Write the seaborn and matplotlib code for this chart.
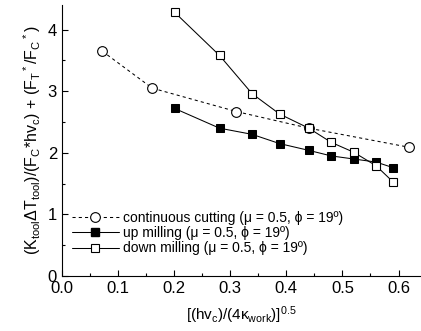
import pandas as pd
import matplotlib.pyplot as plt
import seaborn as sns
from matplotlib.ticker import MultipleLocator
from matplotlib.lines import Line2D

# data
x_cont = [0.072, 0.161, 0.311, 0.440, 0.619]
y_cont = [3.65, 3.05, 2.67, 2.40, 2.09]

x_mill = [0.201, 0.281, 0.339, 0.388, 0.440, 0.480, 0.520, 0.560, 0.590]
y_up = [2.72, 2.40, 2.30, 2.15, 2.04, 1.95, 1.90, 1.85, 1.76]
y_down = [4.28, 3.58, 2.96, 2.63, 2.40, 2.17, 2.01, 1.79, 1.53]

lab_cont = 'continuous cutting (μ = 0.5, ϕ = 19º)'
lab_up = 'up milling (μ = 0.5, ϕ = 19º)'
lab_down = 'down milling (μ = 0.5, ϕ = 19º)'

df_cont = pd.DataFrame({'x': x_cont, 'y': y_cont})
df_up = pd.DataFrame({'x': x_mill, 'y': y_up})
df_down = pd.DataFrame({'x': x_mill, 'y': y_down})

sns.set_style('ticks')
plt.rcParams['font.family'] = ['Liberation Sans', 'DejaVu Sans']
plt.rcParams['mathtext.fontset'] = 'custom'
plt.rcParams['mathtext.rm'] = 'Liberation Sans'
plt.rcParams['mathtext.it'] = 'Liberation Sans:italic'
plt.rcParams['text.color'] = 'black'
plt.rcParams['axes.labelcolor'] = 'black'
plt.rcParams['xtick.color'] = 'black'
plt.rcParams['ytick.color'] = 'black'
plt.rcParams['axes.edgecolor'] = 'black'

fig = plt.figure(figsize=(4.21, 3.31), dpi=100)
ax = fig.add_axes([0.147, 0.166, 0.853, 0.819])

cont_style = dict(color='black', lw=0.75, linestyle=(0, (3, 3)), marker='o',
                  markersize=7, markerfacecolor='white',
                  markeredgecolor='black', markeredgewidth=0.8)
up_style = dict(color='black', lw=0.75, marker='s', markersize=5.5,
                markerfacecolor='black', markeredgecolor='black')
down_style = dict(color='black', lw=0.75, marker='s', markersize=5.5,
                  markerfacecolor='white', markeredgecolor='black',
                  markeredgewidth=0.8)

sns.lineplot(data=df_cont, x='x', y='y', ax=ax, **cont_style)
sns.lineplot(data=df_up, x='x', y='y', ax=ax, **up_style)
sns.lineplot(data=df_down, x='x', y='y', ax=ax, **down_style)

ax.set_xlim(0, 0.64)
ax.set_ylim(0, 4.4)
ax.xaxis.set_major_locator(MultipleLocator(0.1))
ax.xaxis.set_minor_locator(MultipleLocator(0.05))
ax.yaxis.set_major_locator(MultipleLocator(1))
ax.yaxis.set_minor_locator(MultipleLocator(0.5))
ax.xaxis.set_major_formatter(plt.FormatStrFormatter('%.1f'))
ax.tick_params(which='both', direction='in', labelsize=12, width=0.8)
ax.tick_params(which='major', length=4)
ax.tick_params(which='minor', length=2)
sns.despine(ax=ax)

ax.set_xlabel(r'[(hv$_{\rm c}$)/(4κ$_{\rm work}$)]$^{0.5}$', fontsize=11, labelpad=6)
ax.set_ylabel(r'(K$_{\rm tool}$ΔT$_{\rm tool}$)/(F$_{\rm C}$*hv$_{\rm c}$) + (F$_{\rm T}$$^*$/F$_{\rm C}$$^*$)',
              fontsize=11.5, labelpad=3)

handles = [Line2D([], [], **cont_style),
           Line2D([], [], **up_style),
           Line2D([], [], **down_style)]
ax.legend(handles, [lab_cont, lab_up, lab_down], loc='lower left',
          bbox_to_anchor=(0.0, 0.04), frameon=False, numpoints=1,
          fontsize=10, handlelength=3.4, handletextpad=0.3, labelspacing=0.1,
          borderaxespad=0.3)

plt.savefig('out.png', dpi=100)
